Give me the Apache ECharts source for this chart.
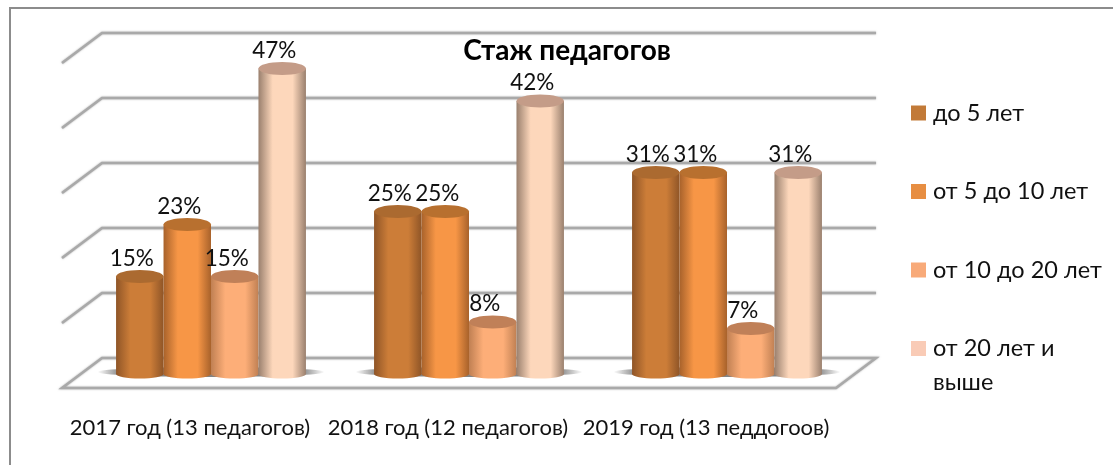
<!DOCTYPE html>
<html>
<head>
<meta charset="utf-8">
<title>Стаж педагогов</title>
<script src="https://cdn.jsdelivr.net/npm/echarts@6/dist/echarts.min.js"></script>
<style>
    html, body { margin: 0; padding: 0; background: #fff; }
    #chart { width: 1113px; height: 465px; }
</style>
</head>
<body>
<div id="chart"></div>
<script>
const categories = ['2017 год (13 педагогов)', '2018 год (12 педагогов)', '2019 год (13 педдогоов)']
const seriesNames = ['до 5 лет', 'от 5 до 10 лет', 'от 10 до 20 лет', 'от 20 лет и выше']
const upTo5 = [15, 25, 31]
const from5To10 = [23, 25, 31]
const from10To20 = [15, 8, 7]
const from20 = [47, 42, 31]
const wallTicks = [0, 10, 20, 30, 40, 50]

const seriesValues = [upTo5, from5To10, from10To20, from20]
const FONT = 'Lato, "Open Sans", "Noto Sans", sans-serif'
const legendColors = ['#c27a38', '#e78e42', '#f8aa79', '#f9cbb6']
// edge, middle, top cap of every cylinder
const barColors = [
    ['#8f5527', '#cc7d38', '#ab6a30'],
    ['#a8622b', '#f79646', '#b8702f'],
    ['#c08053', '#fdae78', '#c08058'],
    ['#9a806e', '#fdd7bb', '#c49c88']
]
const DEPTH_X = 20
const BACK_Y = -16
const FRONT_Y = 14
const BAR_SHARE = 0.184

const cylinder = (seriesIdx) => (params, api) => {
    const base = api.coord([api.value(0), 0])
    const top = api.coord([api.value(0), api.value(1)])
    const band = api.size([1, 0])[0]
    const width = band * BAR_SHARE
    const cx = base[0] + (seriesIdx - 1.5) * width
    const colors = barColors[seriesIdx]
    const fill = {
        type: 'linear', x: 0, y: 0, x2: 1, y2: 0,
        colorStops: [
            { offset: 0, color: colors[0] },
            { offset: 0.3, color: colors[1] },
            { offset: 0.72, color: colors[1] },
            { offset: 1, color: colors[0] }
        ]
    }
    return {
        type: 'group',
        children: [
            { type: 'ellipse', shape: { cx: cx, cy: base[1], rx: width / 2, ry: 4.5 }, style: { fill: fill } },
            { type: 'rect', shape: { x: cx - width / 2, y: top[1], width: width, height: base[1] - top[1] }, style: { fill: fill } },
            { type: 'ellipse', shape: { cx: cx, cy: top[1], rx: width / 2, ry: 6.5 }, style: { fill: colors[2] } },
            {
                type: 'text',
                style: {
                    x: cx - 8, y: top[1] - 18,
                    text: api.value(1) + '%',
                    fill: '#111', font: '22.5px ' + FONT,
                    align: 'center', verticalAlign: 'middle'
                }
            }
        ]
    }
}

// back wall, side wall and floor share the value axis scale
const renderWall = (params, api) => {
    const start = api.coord([0, api.value(0)])
    const end = api.coord([2, api.value(0)])
    const band = api.size([1, 0])[0]
    const left = start[0] - band / 2
    const right = end[0] + band / 2
    const y = start[1]
    const lineStyle = { stroke: '#a9a9a9', lineWidth: 2.5, fill: null, lineJoin: 'miter', shadowBlur: 2, shadowColor: 'rgba(120,120,120,0.6)' }
    if (api.value(0) === 0) {
        return {
            type: 'polygon',
            shape: {
                points: [
                    [left + DEPTH_X, y + BACK_Y], [right + DEPTH_X, y + BACK_Y],
                    [right - DEPTH_X, y + FRONT_Y], [left - DEPTH_X, y + FRONT_Y]
                ]
            },
            style: lineStyle
        }
    }
    return {
        type: 'polyline',
        shape: {
            points: [
                [left - DEPTH_X, y + FRONT_Y], [left + DEPTH_X, y + BACK_Y], [right + DEPTH_X, y + BACK_Y]
            ]
        },
        style: lineStyle
    }
}

// soft shadow under each group of cylinders
const renderShadow = (params, api) => {
    const base = api.coord([api.value(0), 0])
    const band = api.size([1, 0])[0]
    return {
        type: 'ellipse',
        shape: { cx: base[0], cy: base[1] - 2, rx: band * 0.44, ry: 5 },
        style: {
            fill: {
                type: 'linear', x: 0, y: 0, x2: 1, y2: 0,
                colorStops: [
                    { offset: 0, color: 'rgba(90,90,90,0)' },
                    { offset: 0.1, color: 'rgba(90,90,90,0.75)' },
                    { offset: 0.9, color: 'rgba(90,90,90,0.75)' },
                    { offset: 1, color: 'rgba(90,90,90,0)' }
                ]
            }
        }
    }
}

const chart = echarts.init(document.getElementById('chart'))
const option = {
    animation: false,
    textStyle: { fontFamily: FONT },
    title: {
        text: 'Стаж педагогов',
        left: 562,
        top: 32,
        textAlign: 'center',
        textStyle: { fontSize: 28, fontWeight: 'bold', color: '#000', fontFamily: FONT }
    },
    grid: { left: 82, top: 49, width: 774, height: 325 },
    xAxis: {
        type: 'category',
        data: categories,
        axisLine: { show: false },
        axisTick: { show: false },
        axisLabel: { interval: 0, hideOverlap: false, margin: 43, fontSize: 22, color: '#111', padding: [0, 42, 0, 0], fontFamily: FONT }
    },
    yAxis: {
        type: 'value',
        min: 0,
        max: 50,
        interval: 10,
        show: false
    },
    legend: {
        orient: 'vertical',
        left: 906,
        top: 96,
        itemWidth: 15,
        itemHeight: 15,
        itemGap: 54.5,
        icon: 'rect',
        selectedMode: false,
        data: seriesNames.map((name, i) => ({ name: name, itemStyle: { color: legendColors[i] } })),
        formatter: (name) => name.replace(' выше', ''),
        textStyle: { fontSize: 23.5, color: '#111', fontFamily: FONT, padding: [0, 0, 0, 2] }
    },
    graphic: [
        {
            type: 'polyline', silent: true, z: 0,
            shape: { points: [[10, 465], [10, 8], [1113, 8]] },
            style: { fill: 'none', stroke: '#8c8c8c', lineWidth: 2 }
        },
        {
            type: 'text', silent: true,
            style: {
                x: 933, y: 382, text: 'выше', fill: '#111', font: '23.5px ' + FONT,
                verticalAlign: 'middle'
            }
        }
    ],
    series: [
        {
            type: 'custom', name: 'wall', silent: true, z: 1,
            coordinateSystem: 'cartesian2d',
            encode: { x: 1, y: 0 },
            data: wallTicks.map(t => [t]),
            renderItem: renderWall
        },
        {
            type: 'custom', name: 'shadow', silent: true, z: 1,
            data: categories.map((c, i) => [i]),
            encode: { x: 0, y: -1 },
            renderItem: renderShadow
        }
    ].concat(seriesNames.map((name, i) => ({
        type: 'custom',
        name: name,
        z: 2,
        itemStyle: { color: legendColors[i] },
        data: seriesValues[i].map((v, k) => [k, v]),
        encode: { x: 0, y: 1 },
        renderItem: cylinder(i)
    })))
}
chart.setOption(option)
</script>
</body>
</html>
